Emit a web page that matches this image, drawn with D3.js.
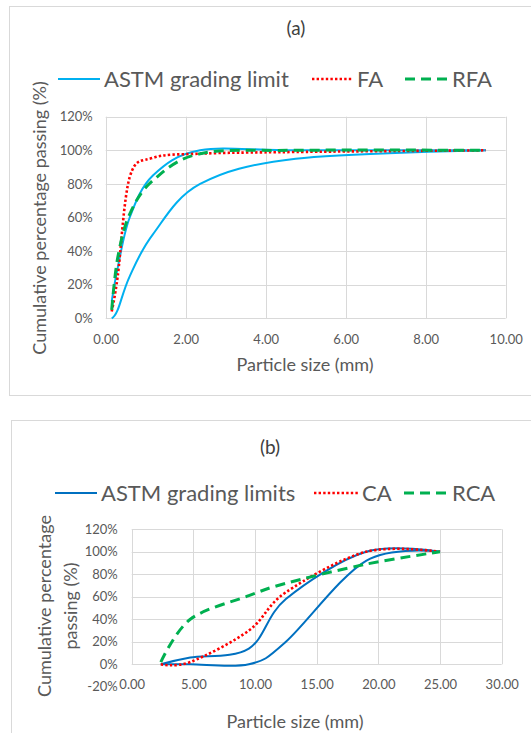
<!DOCTYPE html>
<html lang="en">
<head>
<meta charset="UTF-8">
<title>Grading curves</title>
<script src="https://d3js.org/d3.v7.min.js"></script>
<style>
  body { margin: 0; background: #fff; }
  svg { display: block; font-family: Lato, "Open Sans", sans-serif; }
</style>
</head>
<body>
<div id="chart"></div>
<script>
// ---- data ----
// (a) fine aggregate, sieve sizes in mm, % passing
const sievesA = [0.15, 0.3, 0.6, 1.18, 2.36, 4.75, 9.5];
const astmUpperA = [10, 30, 60, 85, 100, 100, 100];
const astmLowerA = [0, 5, 25, 50, 80, 95, 100];
const faPassing = [4, 25, 84, 95.5, 98, 99, 100];
const rfaPassing = [5, 36, 62, 82, 98, 100, 100];
const xTicksA = [0, 2, 4, 6, 8, 10];
const yTicksA = [0, 20, 40, 60, 80, 100, 120];

// (b) coarse aggregate
const sievesB = [2.36, 4.75, 9.5, 12.5, 19, 25];
const astmUpperB = [0, 6, 14, 58, 100, 100];
const astmLowerB = [0, 0, 0, 20, 92, 100];
const caPassing = [0, 2, 30, 64, 100, 100];
const rcaPassing = [2, 40, 61, 72, 89, 100];
const xTicksB = [0, 5, 10, 15, 20, 25, 30];
const yTicksB = [-20, 0, 20, 40, 60, 80, 100, 120];

const W = 531, H = 733;
const grid = "#d9d9d9", textCol = "#595959";

const svg = d3.select("#chart").append("svg")
  .attr("width", W).attr("height", H);

// chart frames
svg.append("rect").attr("x", 9.5).attr("y", 6.5).attr("width", 540).attr("height", 389)
  .attr("fill", "none").attr("stroke", grid);
svg.append("rect").attr("x", 11.5).attr("y", 420.5).attr("width", 540).attr("height", 340)
  .attr("fill", "none").attr("stroke", grid);

const styles = {
  solid: { dash: null, width: 2 },
  dot: { dash: "2.4,2.2", width: 2.6 },
  dash: { dash: "10,6", width: 3 }
};

function drawChart(cfg) {
  const g = svg.append("g");
  const x = d3.scaleLinear().domain(cfg.xDomain).range(cfg.xRange);
  const y = d3.scaleLinear().domain(cfg.yDomain).range(cfg.yRange);

  // gridlines
  g.append("g").selectAll("line").data(cfg.yTicks.filter(t => t >= 0)).join("line")
    .attr("x1", cfg.xRange[0]).attr("x2", cfg.xRange[1])
    .attr("y1", d => Math.round(y(d)) + 0.5).attr("y2", d => Math.round(y(d)) + 0.5)
    .attr("stroke", grid);
  g.append("g").selectAll("line").data(cfg.xTicks).join("line")
    .attr("x1", d => Math.round(x(d)) + 0.5).attr("x2", d => Math.round(x(d)) + 0.5)
    .attr("y1", y(0)).attr("y2", y(cfg.yTicks[cfg.yTicks.length - 1]))
    .attr("stroke", grid);

  // axes (labels only)
  const ya = g.append("g").attr("transform", `translate(${cfg.xRange[0]},0)`)
    .call(d3.axisLeft(y).tickValues(cfg.yTicks).tickSize(0).tickPadding(cfg.yPad)
      .tickFormat(d => d + "%"));
  const xa = g.append("g").attr("transform", `translate(0,${y(0)})`)
    .call(d3.axisBottom(x).tickValues(cfg.xTicks).tickSize(0).tickPadding(cfg.xPad)
      .tickFormat(d3.format(".2f")));
  [ya, xa].forEach(a => {
    a.select(".domain").remove();
    a.selectAll("text").attr("fill", textCol).attr("font-size", 13)
      .attr("font-family", "Lato, sans-serif");
  });

  // series
  const line = d3.line().x(d => x(d[0])).y(d => y(d[1])).curve(d3.curveCatmullRom.alpha(0));
  cfg.series.forEach(s => {
    const st = styles[s.style];
    g.append("path")
      .datum(cfg.sieves.map((v, i) => [v, s.values[i]]))
      .attr("d", line)
      .attr("fill", "none")
      .attr("stroke", s.color)
      .attr("stroke-width", st.width)
      .attr("stroke-dasharray", st.dash);
  });

  // title
  g.append("text").attr("x", cfg.title.x).attr("y", cfg.title.y)
    .attr("text-anchor", "middle").attr("font-size", 19).attr("fill", "#404040")
    .text(cfg.title.text);

  // legend
  const leg = g.append("g").attr("transform", `translate(0,${cfg.legendY})`);
  cfg.legend.forEach(l => {
    const st = styles[l.style];
    leg.append("line").attr("x1", l.x1).attr("x2", l.x2).attr("y1", 0).attr("y2", 0)
      .attr("stroke", l.color).attr("stroke-width", st.width).attr("stroke-dasharray", st.dash);
    leg.append("text").attr("x", l.x2 + 4).attr("y", 8)
      .attr("font-size", 22).attr("fill", textCol).text(l.name);
  });

  // axis titles
  g.append("text").attr("x", cfg.xTitle.x).attr("y", cfg.xTitle.y)
    .attr("text-anchor", "middle").attr("font-size", 18).attr("fill", textCol)
    .text(cfg.xTitle.text);
  const yt = g.append("text")
    .attr("transform", `translate(${cfg.yTitle.x},${cfg.yTitle.y}) rotate(-90)`)
    .attr("text-anchor", "middle").attr("font-size", 18).attr("fill", textCol);
  cfg.yTitle.lines.forEach((t, i) => {
    yt.append("tspan").attr("x", 0).attr("dy", i === 0 ? 0 : cfg.yTitle.lh).text(t);
  });
}

drawChart({
  sieves: sievesA,
  xDomain: [0, 10], xRange: [105.7, 505.7],
  yDomain: [0, 120], yRange: [318.3, 116.7],
  xTicks: xTicksA, yTicks: yTicksA, yPad: 13, xPad: 16,
  series: [
    { name: "upper", values: astmUpperA, color: "#00b0f0", style: "solid" },
    { name: "lower", values: astmLowerA, color: "#00b0f0", style: "solid" },
    { name: "FA", values: faPassing, color: "#ff0000", style: "dot" },
    { name: "RFA", values: rfaPassing, color: "#00b050", style: "dash" }
  ],
  title: { text: "(a)", x: 296, y: 35 },
  legendY: 79,
  legend: [
    { name: "ASTM grading limit", x1: 58, x2: 100, color: "#00b0f0", style: "solid" },
    { name: "FA", x1: 312, x2: 353, color: "#ff0000", style: "dot" },
    { name: "RFA", x1: 405, x2: 448, color: "#00b050", style: "dash" }
  ],
  xTitle: { text: "Particle size (mm)", x: 305, y: 371 },
  yTitle: { lines: ["Cumulative percentage passing (%)"], x: 46, y: 218, lh: 0 }
});

drawChart({
  sieves: sievesB,
  xDomain: [0, 30], xRange: [131.7, 501.7],
  yDomain: [-20, 120], yRange: [686.8, 529.3],
  xTicks: xTicksB, yTicks: yTicksB, yPad: 14, xPad: 15,
  series: [
    { name: "upper", values: astmUpperB, color: "#0070c0", style: "solid" },
    { name: "lower", values: astmLowerB, color: "#0070c0", style: "solid" },
    { name: "CA", values: caPassing, color: "#ff0000", style: "dot" },
    { name: "RCA", values: rcaPassing, color: "#00b050", style: "dash" }
  ],
  title: { text: "(b)", x: 270, y: 454 },
  legendY: 493,
  legend: [
    { name: "ASTM grading limits", x1: 55, x2: 97, color: "#0070c0", style: "solid" },
    { name: "CA", x1: 314, x2: 358, color: "#ff0000", style: "dot" },
    { name: "RCA", x1: 404, x2: 448, color: "#00b050", style: "dash" }
  ],
  xTitle: { text: "Particle size  (mm)", x: 295, y: 728 },
  yTitle: { lines: ["Cumulative percentage", "passing (%)"], x: 51, y: 606, lh: 26 }
});
</script>
</body>
</html>
